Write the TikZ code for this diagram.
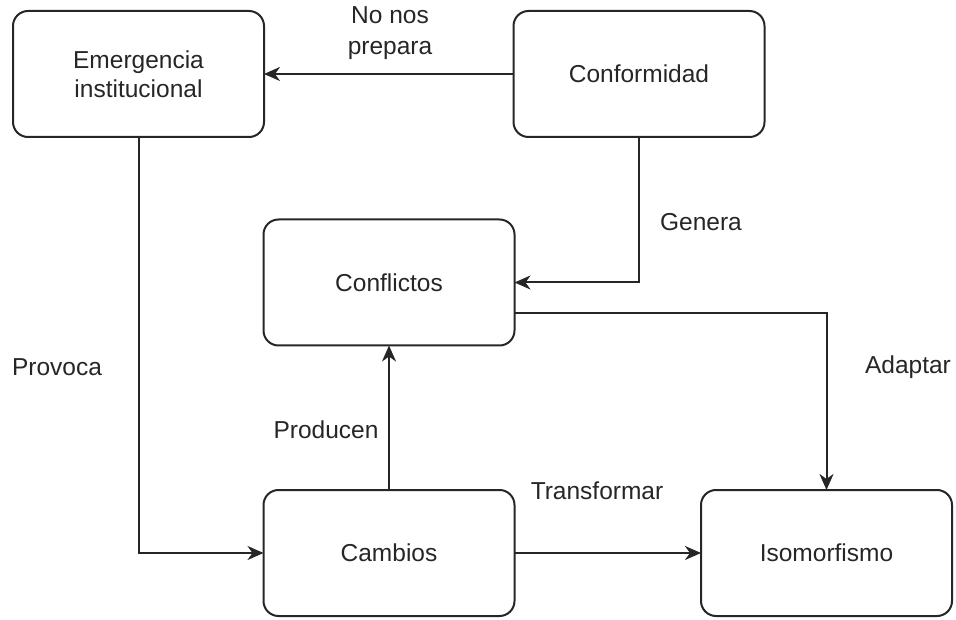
\documentclass[tikz,border=0pt]{standalone}
\usepackage{fontspec}
\setmainfont{Liberation Sans}
\usetikzlibrary{arrows.meta}
\begin{document}
\begin{tikzpicture}[x=1pt,y=-1pt,
  box/.style={draw=black!85,line width=2pt,rounded corners=15pt,minimum width=251pt,minimum height=126pt,inner sep=0pt,outer sep=0pt,align=center,font=\fontsize{24.5}{29}\selectfont,text=black!85},
  lbl/.style={align=center,font=\fontsize{24.5}{31}\selectfont,text=black!85,inner sep=0pt},
  conn/.style={draw=black!85,line width=2pt,-{Stealth[length=16pt,width=14pt,inset=5pt]}}]
\useasboundingbox (0,0) rectangle (956,620);
\node[box] (emerg) at (138.5,74) {Emergencia\\institucional};
\node[box] (conf) at (639,74) {Conformidad};
\node[box] (confl) at (389,282.5) {Conflictos};
\node[box] (camb) at (389,553) {Cambios};
\node[box] (iso) at (826.5,553) {Isomorfismo};
\draw[conn] (conf.west) -- (emerg.east);
\draw[conn] (conf.south) |- (confl.east);
\draw[conn] (emerg.south) |- (camb.west);
\draw[conn] ([yshift=-31pt]confl.east) -| (iso.north);
\draw[conn] (camb.north) -- (confl.south);
\draw[conn] (camb.east) -- (iso.west);
\node[lbl] (l1) at (390,33) {No nos\\prepara};
\node[lbl] (l2) at (701,222) {Genera};
\node[lbl] (l3) at (57,367) {Provoca};
\node[lbl] (l4) at (908,367) {Adaptar};
\node[lbl] (l5) at (326,430) {Producen};
\node[lbl] (l6) at (597,491) {Transformar};
\end{tikzpicture}
\end{document}
